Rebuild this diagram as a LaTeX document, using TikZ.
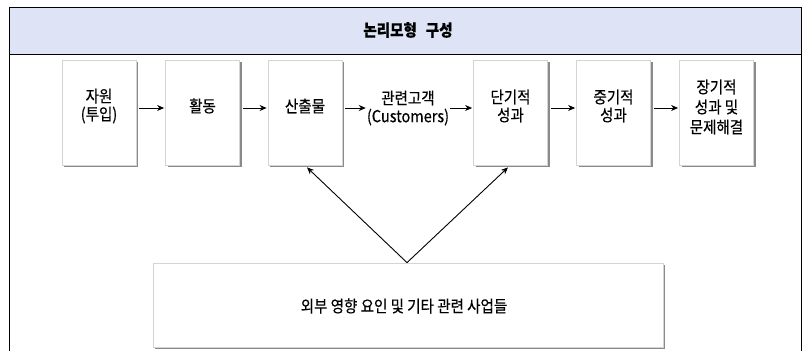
\documentclass[tikz,border=0pt]{standalone}
\usepackage{fontspec}
\setmainfont{Noto Sans CJK KR}[FakeStretch=0.88,FakeBold=0.4]
\usetikzlibrary{shadows,arrows.meta}
\definecolor{headfill}{HTML}{DEE4F6}
\definecolor{boxedge}{HTML}{D4D4D4}
\definecolor{shade}{HTML}{8A8A8A}
\tikzset{
  box/.style={draw=boxedge, line width=0.8pt, fill=white, minimum width=74pt, minimum height=105pt, inner sep=0pt,
    drop shadow={shadow xshift=2.2pt, shadow yshift=-2.2pt, fill=shade, opacity=1}},
  bigbox/.style={box, minimum width=510pt, minimum height=84pt},
  txt/.style={align=center, font=\fontsize{16.5}{18}\selectfont, inner sep=0pt},
  arr/.style={line width=0.9pt, -{Stealth[length=7pt,width=6pt]}},
  frame/.style={line width=1pt, draw=black}
}
\begin{document}
\begin{tikzpicture}[x=1pt,y=-1pt]
\useasboundingbox (0,0) rectangle (802,351);
% frame and header
\fill[headfill] (9,7) rectangle (801,54);
\draw[frame] (9,351) -- (9,7) -- (801,7) -- (801,351);
\draw[frame] (9,54) -- (801,54);
\node[font=\fontsize{16.5}{18}\selectfont\bfseries] (title) at (408,30) {논리모형\hspace{9pt}구성};
% boxes
\node[box] (b1) at (99,112.5) {};
\node[box] (b2) at (202.5,112.5) {};
\node[box] (b3) at (305,112.5) {};
\node[box] (b4) at (510.5,112.5) {};
\node[box] (b5) at (613.5,112.5) {};
\node[box] (b6) at (716.5,112.5) {};
\node[txt] (t1) at (99,106) {자원\\(투입)};
\node[txt] (t2) at (202.5,106) {활동};
\node[txt] (t3) at (305,106) {산출물};
\node[txt] (cu) at (408,108) {관련고객\\(Customers)};
\node[txt] (t4) at (510.5,106) {단기적\\성과};
\node[txt] (t5) at (613.5,106) {중기적\\성과};
\node[txt, font=\fontsize{16.5}{20}\selectfont] (t6) at (716.5,107) {장기적\\성과 및\\문제해결};
% bottom box
\node[bigbox] (bb) at (408,305) {};
\node[txt] (bt) at (404,306) {외부 영향 요인 및 기타 관련 사업들};
% horizontal arrows
\draw[arr] ([xshift=3pt,yshift=4.5pt]b1.east) -- ([xshift=-1pt,yshift=4.5pt]b2.west);
\draw[arr] ([xshift=3pt,yshift=4.5pt]b2.east) -- ([xshift=-1pt,yshift=4.5pt]b3.west);
\draw[arr] ([xshift=3pt,yshift=4.5pt]b3.east) -- ([xshift=-1pt,yshift=4.5pt]b3.east -| cu.west);
\draw[arr] ([xshift=1pt,yshift=4.5pt]b4.west -| cu.east) -- ([xshift=-1pt,yshift=4.5pt]b4.west);
\draw[arr] ([xshift=3pt,yshift=4.5pt]b4.east) -- ([xshift=-1pt,yshift=4.5pt]b5.west);
\draw[arr] ([xshift=3pt,yshift=4.5pt]b5.east) -- ([xshift=-1pt,yshift=4.5pt]b6.west);
% diagonal arrows
\coordinate (apex) at ([xshift=-1pt]bb.north);
\draw[arr] (apex) -- ([xshift=2pt,yshift=-2pt]b3.south);
\draw[arr] (apex) -- ([xshift=-2.5pt,yshift=-2pt]b4.south);
\end{tikzpicture}
\end{document}
